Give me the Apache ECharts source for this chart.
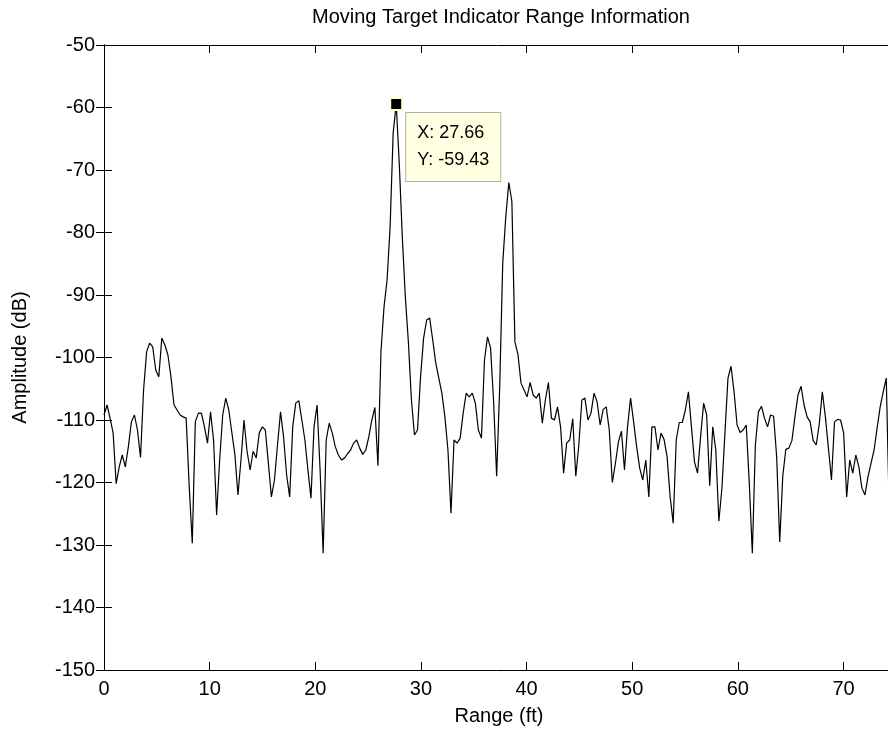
<!DOCTYPE html>
<html>
<head>
<meta charset="utf-8">
<script src="https://cdn.jsdelivr.net/npm/echarts@6/dist/echarts.min.js"></script>
<style>
html,body{margin:0;padding:0;background:#fff;}
#chart{width:888px;height:736px;}
</style>
</head>
<body>
<div id="chart"></div>
<script>
// ---- data ----
const titleText = 'Moving Target Indicator Range Information';
const xName = 'Range (ft)';
const yName = 'Amplitude (dB)';
const rangeStart = 0;          // ft, first range bin
const rangeStep = 0.28812;     // ft per range bin
const xMin = 0, xMax = 74.78, xInterval = 10;
const yMin = -150, yMax = -50, yInterval = 10;
const amplitude = [
 -109.2,-107.6,-109.7,-112.1,-120.2,-117.5,-115.6,-117.5,-114.3,-110.3,
 -109.2,-111.6,-116.0,-105.2,-99.1,-97.7,-98.3,-102,-103.1,-96.9,
 -98,-99.6,-103.1,-107.6,-108.4,-109.2,-109.5,-109.7,-120.7,-129.7,
 -110.3,-108.9,-108.9,-111.1,-113.7,-108.7,-113.2,-125.2,-116.4,-109.2,
 -106.5,-108.4,-112,-115.5,-122,-116.4,-110,-115,-118,-115,
 -116.1,-112.1,-111.1,-111.6,-116.9,-122.3,-119.6,-114,-108.7,-112.7,
 -118.8,-122.3,-111.1,-107.3,-106.9,-110,-113.2,-118,-122.5,-111.1,
 -107.6,-118,-131.3,-113.2,-110.5,-112.1,-114.3,-115.6,-116.4,-116.1,
 -115.4,-114.8,-113.7,-113.2,-114.5,-115.5,-114.8,-112.7,-110,-108,
 -117.3,-99,-91.9,-87.6,-79.1,-64.1,-59.43,-68.9,-80.7,-90.3,
 -97.5,-106.8,-112.4,-111.6,-103.1,-96.9,-94,-93.7,-97.2,-100.9,
 -103.3,-105.7,-109.5,-114.8,-124.9,-113.2,-113.7,-112.9,-108.9,-105.7,
 -106.3,-105.7,-107.3,-111.6,-112.9,-100.4,-96.7,-98.5,-107,-119,
 -104.7,-84.9,-77.5,-72,-75,-97.5,-99.5,-104.1,-105.2,-106.3,
 -104,-106,-106.5,-105.7,-110.5,-106.8,-104,-109.7,-110,-107.9,
 -111.1,-118.5,-113.7,-113.2,-109.8,-119,-114,-106.8,-106.5,-110,
 -108.9,-105.7,-107.1,-110.8,-108.3,-107.9,-111.6,-120,-117,-113.5,
 -111.8,-118,-111.1,-106.5,-110.3,-114.3,-117.7,-119.6,-116.4,-122.3,
 -111.1,-111.1,-114.8,-112.1,-113.1,-115.9,-122.3,-126.5,-113.2,-110.4,
 -110.4,-108.4,-105.5,-111.1,-116.7,-118.5,-112.7,-107.3,-109.2,-120.5,
 -111.1,-114.8,-126.2,-121,-112.1,-103.3,-101.4,-105.5,-110.8,-112,
 -111.6,-110.8,-120.1,-131.3,-114,-108.7,-107.8,-109.7,-111.1,-109.2,
 -109.4,-115.9,-129.5,-119,-114.7,-114.5,-113.3,-109.5,-106,-104.6,
 -107.6,-109.5,-110.3,-113.3,-114,-110.6,-105.5,-109.5,-114.5,-119.6,
 -110.3,-109.9,-110,-112.1,-122.3,-116.4,-118.5,-115.6,-117.5,-120.9,
 -122,-119.1,-116.9,-114.8,-111.3,-107.9,-105.5,-103.3,-125
];
const tipX = 27.66, tipY = -59.43;
const tipText = 'X: 27.66\nY: -59.43';

// ---- chart ----
const seriesData = amplitude.map((v, i) => [rangeStart + i * rangeStep, v]);
const font = "'Liberation Sans', Arial, sans-serif";
const tickStyle = {show: true, inside: true, length: 8, lineStyle: {color: '#000', width: 1}};
const lineStyle = {show: true, lineStyle: {color: '#000', width: 1}};
const chart = echarts.init(document.getElementById('chart'), null, {renderer: 'canvas'});
chart.setOption({
  animation: false,
  backgroundColor: '#fff',
  title: {
    text: titleText, left: 496, top: 2, textAlign: 'center',
    textStyle: {fontFamily: font, fontSize: 20, fontWeight: 'normal', color: '#000'}
  },
  grid: {left: 104, right: -6, top: 45, bottom: 66, containLabel: false, outerBoundsMode: 'none'},
  xAxis: [{
    type: 'value', min: xMin, max: xMax, interval: xInterval, position: 'bottom',
    name: xName, nameLocation: 'middle', nameGap: 36,
    nameTextStyle: {fontFamily: font, fontSize: 20, color: '#000'},
    axisLine: lineStyle, axisTick: tickStyle, splitLine: {show: false},
    axisLabel: {fontFamily: font, fontSize: 20, color: '#000', margin: 9,
      formatter: v => (v % 10 === 0 ? String(v) : '')}
  }, {
    type: 'value', min: xMin, max: xMax, interval: xInterval, position: 'top',
    axisLine: lineStyle, axisTick: tickStyle, axisLabel: {show: false}, splitLine: {show: false}
  }],
  yAxis: [{
    type: 'value', min: yMin, max: yMax, interval: yInterval, position: 'left',
    name: yName, nameLocation: 'middle', nameGap: 74, nameRotate: 90,
    nameTextStyle: {fontFamily: font, fontSize: 20, color: '#000'},
    axisLine: lineStyle, axisTick: tickStyle, splitLine: {show: false},
    axisLabel: {fontFamily: font, fontSize: 20, color: '#000', margin: 9}
  }, {
    type: 'value', min: yMin, max: yMax, interval: yInterval, position: 'right',
    axisLine: lineStyle, axisTick: tickStyle, axisLabel: {show: false}, splitLine: {show: false}
  }],
  series: [{
    type: 'line', data: seriesData, showSymbol: false, clip: true,
    lineStyle: {color: '#000', width: 1.2}, itemStyle: {color: '#000'},
    markPoint: {
      symbol: 'rect', symbolSize: 12,
      itemStyle: {color: '#000', borderColor: '#ffffd0', borderWidth: 2},
      label: {
        show: true, position: [17, 16], formatter: tipText,
        fontFamily: font, fontSize: 18, color: '#000', lineHeight: 27,
        backgroundColor: '#ffffe1', borderColor: '#b0b0b0', borderWidth: 1,
        padding: [7, 11, 7, 11]
      },
      data: [{coord: [tipX, tipY]}]
    }
  }]
});
</script>
</body>
</html>
